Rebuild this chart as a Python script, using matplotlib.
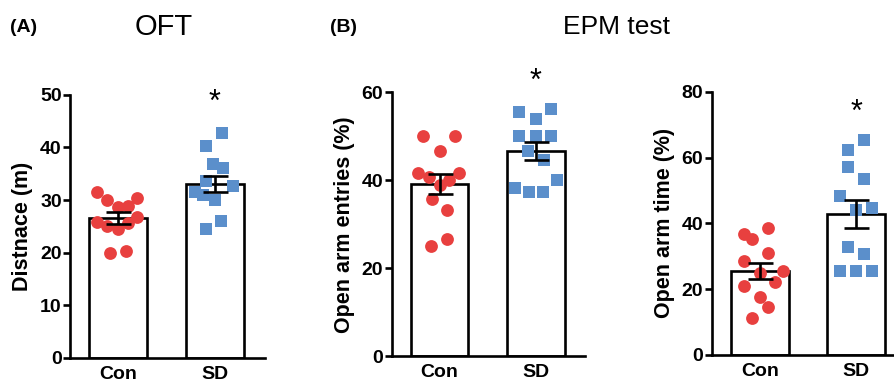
import numpy as np
import matplotlib as mpl
mpl.use('Agg')
import matplotlib.pyplot as plt

mpl.rcParams['font.family'] = ['Liberation Sans', 'DejaVu Sans']

# data
groups = ['Con', 'SD']

oft_con = [31.5, 30.1, 30.4, 28.7, 28.9, 25.8, 25.0, 24.6, 25.6, 26.8, 19.9, 20.4]
oft_con_dx = [-0.22, -0.11, 0.2, 0, 0.1, -0.22, -0.11, 0, 0.1, 0.2, -0.08, 0.08]
oft_sd = [42.7, 40.2, 36.8, 36.1, 33.7, 32.7, 31.6, 31.0, 30.1, 26.1, 24.5]
oft_sd_dx = [0.07, -0.09, -0.02, 0.08, -0.09, 0.19, -0.21, -0.12, 0, 0.06, -0.09]
oft_mean = [26.6, 33.1]
oft_sem = [1.1, 1.5]

ent_con = [50.1, 50.1, 46.7, 41.6, 40.8, 41.6, 40.1, 38.9, 35.7, 33.2, 26.6, 25.0]
ent_con_dx = [-0.17, 0.16, 0, -0.22, -0.11, 0.2, 0.1, 0, -0.08, 0.08, 0.08, -0.09]
ent_sd = [55.6, 56.2, 53.9, 50.1, 50.1, 50.1, 46.7, 44.6, 40.1, 38.2, 37.4, 37.4]
ent_sd_dx = [-0.17, 0.16, 0, -0.17, 0, 0.16, -0.08, 0.09, 0.22, -0.22, -0.07, 0.08]
ent_mean = [39.2, 46.7]
ent_sem = [2.35, 2.05]

time_con = [36.8, 35.4, 38.7, 28.6, 31.1, 25.0, 25.5, 21.1, 22.1, 17.5, 14.7, 11.3]
time_con_dx = [-0.16, -0.08, 0.09, -0.16, 0.09, 0, 0.24, -0.16, 0.16, 0, 0.09, -0.08]
time_sd = [65.3, 62.3, 57.2, 53.4, 48.3, 44.1, 44.6, 32.9, 30.6, 25.6, 25.6, 25.6]
time_sd_dx = [0.08, -0.08, -0.08, 0.08, -0.17, 0, 0.16, -0.08, 0.08, -0.17, 0, 0.16]
time_mean = [25.6, 42.8]
time_sem = [2.5, 4.25]

red = '#E8403F'
blue = '#5B8FCB'
lw = 1.9

fig = plt.figure(figsize=(8.94, 3.87), dpi=100)

panels = [
    ([0.0783, 0.075, 0.218, 0.680], oft_con, oft_con_dx, oft_sd, oft_sd_dx, oft_mean, oft_sem,
     'Distnace (m)', 50, 10, (-0.495, 1.515), 48.5),
    ([0.438, 0.080, 0.216, 0.681], ent_con, ent_con_dx, ent_sd, ent_sd_dx, ent_mean, ent_sem,
     'Open arm entries (%)', 60, 20, (-0.5, 1.51), 62.3),
    ([0.796, 0.0827, 0.2027, 0.680], time_con, time_con_dx, time_sd, time_sd_dx, time_mean, time_sem,
     'Open arm time (%)', 80, 20, (-0.5, 1.38), 73.5),
]

for rect, con, cdx, sd, sdx, mean, sem, ylab, ymax, step, xl, star in panels:
    ax = fig.add_axes(rect)
    x = np.arange(2)
    ax.bar(x, mean, 0.6, color='white', edgecolor='black', linewidth=lw, zorder=1)
    ax.scatter(np.array(cdx), con, s=85, color=red, marker='o', linewidths=0, zorder=2)
    ax.scatter(1 + np.array(sdx), sd, s=70, color=blue, marker='s', linewidths=0, zorder=2)
    ax.errorbar(x, mean, yerr=sem, fmt='none', ecolor='black', elinewidth=lw,
                capsize=9, capthick=lw, zorder=3)
    ax.text(1, star, '*', ha='center', va='center', fontsize=22, clip_on=False)
    ax.set_xlim(*xl)
    ax.set_ylim(0, ymax)
    ax.set_yticks(np.arange(0, ymax + 1, step))
    ax.set_xticks(x)
    ax.set_xticklabels(groups)
    ax.spines['top'].set_visible(False)
    ax.spines['right'].set_visible(False)
    ax.spines['left'].set_linewidth(lw)
    ax.spines['bottom'].set_linewidth(lw)
    ax.tick_params(axis='y', length=5, width=lw, labelsize=14, pad=1)
    ax.tick_params(axis='x', length=0, labelsize=14, pad=6)
    for t in ax.get_xticklabels() + ax.get_yticklabels():
        t.set_fontweight('bold')
    ax.set_ylabel(ylab, fontsize=15.5, fontweight='bold', labelpad=5)

fig.text(0.011, 0.93, '(A)', fontsize=14, fontweight='bold', va='center')
fig.text(0.183, 0.93, 'OFT', fontsize=21, ha='center', va='center')
fig.text(0.369, 0.93, '(B)', fontsize=14, fontweight='bold', va='center')
fig.text(0.69, 0.93, 'EPM test', fontsize=19, ha='center', va='center')

plt.savefig('out.png', dpi=100, facecolor='w')
